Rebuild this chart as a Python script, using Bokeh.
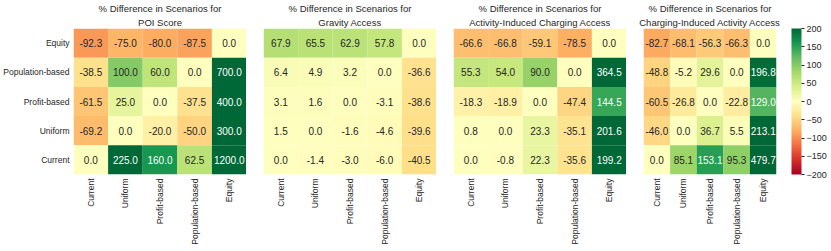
import math
import numpy as np
from bokeh.plotting import figure
from bokeh.models import (ColumnDataSource, FactorRange, LinearColorMapper, ColorBar,
                          FixedTicker, Title, CustomJSTickFormatter)
from bokeh.layouts import row
from bokeh.transform import transform
from bokeh.core.properties import value
from bokeh.embed import file_html
from bokeh.resources import INLINE

# ---------------- data ----------------
scenarios_x = ["Current", "Uniform", "Profit-based", "Population-based", "Equity"]
scenarios_y = ["Equity", "Population-based", "Profit-based", "Uniform", "Current"]  # top -> bottom

titles = [
    ("% Difference in Scenarios for", "POI Score"),
    ("% Difference in Scenarios for", "Gravity Access"),
    ("% Difference in Scenarios for", "Activity-Induced Charging Access"),
    ("% Difference in Scenarios for", "Charging-Induced Activity Access"),
]

poi_score = [
    [-92.3, -75.0, -80.0, -87.5, 0.0],
    [-38.5, 100.0, 60.0, 0.0, 700.0],
    [-61.5, 25.0, 0.0, -37.5, 400.0],
    [-69.2, 0.0, -20.0, -50.0, 300.0],
    [0.0, 225.0, 160.0, 62.5, 1200.0],
]
gravity_access = [
    [67.9, 65.5, 62.9, 57.8, 0.0],
    [6.4, 4.9, 3.2, 0.0, -36.6],
    [3.1, 1.6, 0.0, -3.1, -38.6],
    [1.5, 0.0, -1.6, -4.6, -39.6],
    [0.0, -1.4, -3.0, -6.0, -40.5],
]
activity_charging = [
    [-66.6, -66.8, -59.1, -78.5, 0.0],
    [55.3, 54.0, 90.0, 0.0, 364.5],
    [-18.3, -18.9, 0.0, -47.4, 144.5],
    [0.8, 0.0, 23.3, -35.1, 201.6],
    [0.0, -0.8, 22.3, -35.6, 199.2],
]
charging_activity = [
    [-82.7, -68.1, -56.3, -66.3, 0.0],
    [-48.8, -5.2, 29.6, 0.0, 196.8],
    [-60.5, -26.8, 0.0, -22.8, 129.0],
    [-46.0, 0.0, 36.7, 5.5, 213.1],
    [0.0, 85.1, 153.1, 95.3, 479.7],
]
matrices = [poi_score, gravity_access, activity_charging, charging_activity]

cbar_ticks = [-200, -150, -100, -50, 0, 50, 100, 150, 200]
vmin, vmax = -200, 200

# ---------------- palette (RdYlGn, interpolated) ----------------
anchors = ["#a50026", "#d73027", "#f46d43", "#fdae61", "#fee08b", "#ffffbf",
           "#d9ef8b", "#a6d96a", "#66bd63", "#1a9850", "#006837"]
anc = np.array([[int(h[i:i + 2], 16) for i in (1, 3, 5)] for h in anchors], dtype=float)
pos = np.linspace(0, 1, len(anchors))
t = np.linspace(0, 1, 256)
rgb = np.stack([np.interp(t, pos, anc[:, k]) for k in range(3)], axis=1)
palette = ["#%02x%02x%02x" % tuple(int(round(c)) for c in r) for r in rgb]

mapper = LinearColorMapper(palette=palette, low=vmin, high=vmax)


def text_color_for(v):
    idx = int(np.clip((v - vmin) / (vmax - vmin) * 256, 0, 255))
    c = rgb[idx] / 255.0
    c = np.where(c <= 0.03928, c / 12.92, ((c + 0.055) / 1.055) ** 2.4)
    lum = 0.2126 * c[0] + 0.7152 * c[1] + 0.0722 * c[2]
    return "#262626" if lum > 0.408 else "#ffffff"


FONT = "Liberation Sans"
TXT = "#262626"

frame_widths = [173, 173, 173, 133]
figs = []
for i, (mat, (t1, t2)) in enumerate(zip(matrices, titles)):
    xs, ys, vals, labels, tcs = [], [], [], [], []
    for r, rname in enumerate(scenarios_y):
        for c, cname in enumerate(scenarios_x):
            v = mat[r][c]
            xs.append(cname)
            ys.append(rname)
            vals.append(v)
            labels.append("%.1f" % v)
            tcs.append(text_color_for(v))
    src = ColumnDataSource(dict(x=xs, y=ys, v=vals, label=labels, tc=tcs))

    p = figure(x_range=FactorRange(*scenarios_x),
               y_range=FactorRange(*list(reversed(scenarios_y))),
               frame_width=frame_widths[i], frame_height=146,
               output_backend="svg", toolbar_location=None,
               min_border_left=69 if i == 0 else 17, min_border_right=0,
               min_border_top=0, min_border_bottom=0)
    p.rect(x="x", y="y", width=1, height=1, source=src,
           fill_color=transform("v", mapper), line_color=None)
    p.text(x="x", y="y", text="label", source=src, text_align="center",
           text_baseline="middle", text_font_size="10px", text_color="tc",
           text_font=value(FONT))

    p.add_layout(Title(text=t2, align="center", text_font_size="9.5px",
                       text_font_style="normal", text_color=TXT, text_font=FONT,
                       standoff=2, offset=0), "above")
    p.add_layout(Title(text=t1, align="center", text_font_size="9.5px",
                       text_font_style="normal", text_color=TXT, text_font=FONT,
                       standoff=0, offset=0), "above")

    p.outline_line_color = None
    p.grid.visible = False
    for ax in (p.xaxis, p.yaxis):
        ax.axis_line_color = None
        ax.major_tick_line_color = None
        ax.minor_tick_line_color = None
        ax.major_tick_out = 0
        ax.major_tick_in = 0
        ax.major_label_text_font_size = "8.5px"
        ax.major_label_text_color = TXT
        ax.major_label_text_font = FONT
        ax.major_label_standoff = 4
    p.xaxis.major_label_orientation = math.pi / 2
    if i > 0:
        p.yaxis.visible = False

    if i == 3:
        cb = ColorBar(color_mapper=mapper, width=10, height=146, padding=0,
                      margin=0, location=(15, 0),
                      ticker=FixedTicker(ticks=cbar_ticks),
                      formatter=CustomJSTickFormatter(code="return (tick < 0 ? '\u2212' + (-tick) : '' + tick);"),
                      major_label_text_font_size="9px",
                      major_label_text_color=TXT,
                      major_label_text_font=FONT,
                      major_tick_out=3, major_tick_in=0,
                      major_tick_line_color=TXT,
                      label_standoff=2,
                      bar_line_color=None, border_line_color=None,
                      background_fill_color=None)
        p.add_layout(cb, "right")
    figs.append(p)

layout = row(*figs, spacing=0)
open("out.html", "w").write(file_html(layout, INLINE))
